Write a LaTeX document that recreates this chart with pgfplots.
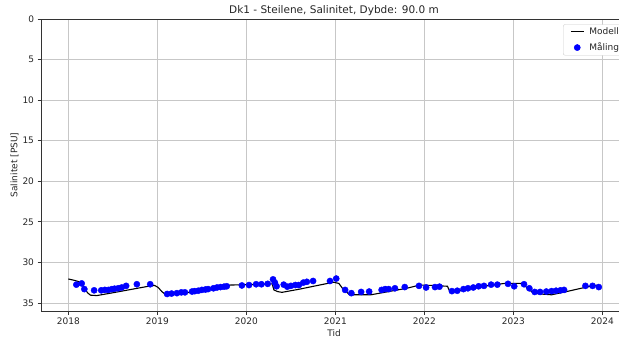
\documentclass[border=0pt]{standalone}
\usepackage{fontspec}
\setmainfont{DejaVu Sans}
\usepackage{pgfplots}
\usepackage{pgfplotstable}
\pgfplotsset{compat=1.18}

% Shorter legend samples, with some room on their left
\pgfplotsset{
  short line legend/.style={legend image code/.code={%
    \path (-5pt,0pt);
    \draw[##1] plot coordinates {(0pt,0pt) (13pt,0pt)};}},
  short mark legend/.style={legend image code/.code={%
    \path (-5pt,0pt);
    \draw[mark repeat=2, mark phase=2, ##1]
      plot coordinates {(0pt,0pt) (6.5pt,0pt) (13pt,0pt)};}},
}

% Modelled salinity at 90 m depth
\pgfplotstableread{
t s
2018.00 32.05
2018.06 32.2
2018.11 32.35
2018.14 32.5
2018.18 33.2
2018.22 33.8
2018.25 34.05
2018.32 34.1
2018.50 33.75
2018.70 33.35
2018.90 32.95
2018.97 32.85
2019.01 33.1
2019.05 33.6
2019.09 33.95
2019.13 34.0
2019.40 33.65
2019.60 33.25
2019.82 32.8
2020.00 32.75
2020.29 32.65
2020.31 33.4
2020.35 33.6
2020.40 33.7
2020.60 33.3
2020.80 32.85
2020.98 32.45
2021.04 32.6
2021.08 33.2
2021.12 33.6
2021.16 34.0
2021.40 34.0
2021.60 33.6
2021.80 33.2
2021.95 32.8
2022.10 32.85
2022.26 32.95
2022.29 33.7
2022.35 33.6
2022.50 33.3
2022.70 32.9
2022.90 32.6
2023.10 32.6
2023.16 33.2
2023.22 33.75
2023.30 33.9
2023.43 34.0
2023.60 33.6
2023.80 33.1
2023.95 32.8
}\modell

% Measured salinity
\pgfplotstableread{
t s
2018.09 32.75
2018.15 32.6
2018.18 33.3
2018.29 33.45
2018.37 33.45
2018.41 33.4
2018.45 33.4
2018.49 33.3
2018.52 33.25
2018.56 33.2
2018.60 33.1
2018.65 32.9
2018.77 32.7
2018.92 32.7
2019.11 33.9
2019.16 33.85
2019.22 33.8
2019.27 33.7
2019.31 33.7
2019.39 33.6
2019.42 33.55
2019.46 33.5
2019.50 33.4
2019.54 33.35
2019.57 33.3
2019.63 33.2
2019.67 33.1
2019.71 33.05
2019.75 33.0
2019.78 32.95
2019.95 32.85
2020.03 32.8
2020.11 32.7
2020.17 32.7
2020.24 32.65
2020.30 32.1
2020.32 32.5
2020.34 32.95
2020.42 32.75
2020.46 33.0
2020.50 32.9
2020.55 32.8
2020.59 32.8
2020.64 32.5
2020.68 32.4
2020.75 32.3
2020.94 32.3
2021.01 32.0
2021.11 33.4
2021.18 33.8
2021.29 33.65
2021.38 33.6
2021.52 33.4
2021.56 33.3
2021.60 33.3
2021.67 33.2
2021.78 33.05
2021.94 32.9
2022.02 33.1
2022.12 33.05
2022.17 33.0
2022.31 33.55
2022.37 33.5
2022.44 33.3
2022.49 33.2
2022.55 33.1
2022.61 32.95
2022.67 32.9
2022.75 32.75
2022.82 32.75
2022.94 32.65
2023.01 32.95
2023.12 32.7
2023.18 33.2
2023.24 33.65
2023.30 33.65
2023.37 33.6
2023.43 33.55
2023.48 33.5
2023.53 33.45
2023.57 33.4
2023.81 32.9
2023.89 32.9
2023.96 33.05
}\maaling

\begin{document}
\begin{tikzpicture}[x=1pt,y=1pt]
\useasboundingbox (0,0) rectangle (619,338);
\begin{axis}[
  at={(41pt,27pt)}, anchor=south west,
  scale only axis, width=586pt, height=292pt,
  xmin=2017.693, xmax=2024.277,
  ymin=0, ymax=36, y dir=reverse,
  xtick={2018,2019,2020,2021,2022,2023,2024},
  ytick={0,5,10,15,20,25,30,35},
  xticklabel style={/pgf/number format/1000 sep=},
  /pgf/number format/assume math mode=true,
  tick label style={font=\fontsize{9}{10}\selectfont, text=black!85},
  label style={font=\fontsize{9}{10}\selectfont, text=black!85},
  xlabel style={yshift=2pt},
  ylabel shift=-3pt,
  title={Dk1 - Steilene, Salinitet, Dybde: 90.0 m},
  title style={font=\fontsize{10.5}{12}\selectfont, text=black!85, yshift=-6pt},
  xlabel={Tid}, ylabel={Salinitet [PSU]},
  grid=major,
  grid style={color=black!22, line width=0.6pt},
  tick align=outside, tick pos=left,
  major tick length=3.5pt,
  every tick/.style={black!80, line width=0.7pt},
  axis line style={black!80, line width=0.8pt},
  legend style={at={(0.8908,0.9818)}, anchor=north west,
    draw=black!20, rounded corners=2pt, fill=white,
    font=\fontsize{9}{10}\selectfont, inner xsep=2pt, inner ysep=1pt,
    row sep=3pt, text=black!85,
    /tikz/column 1/.style={column sep=3pt}},
  legend cell align=left,
]
\addplot[black, line width=1.1pt, short line legend]
  table[x=t, y=s] {\modell};
\addlegendentry{Modell}
\addplot[only marks, mark=*, mark size=3.1pt, color=blue, fill=blue, short mark legend]
  table[x=t, y=s] {\maaling};
\addlegendentry{Måling}
\end{axis}
\end{tikzpicture}
\end{document}
